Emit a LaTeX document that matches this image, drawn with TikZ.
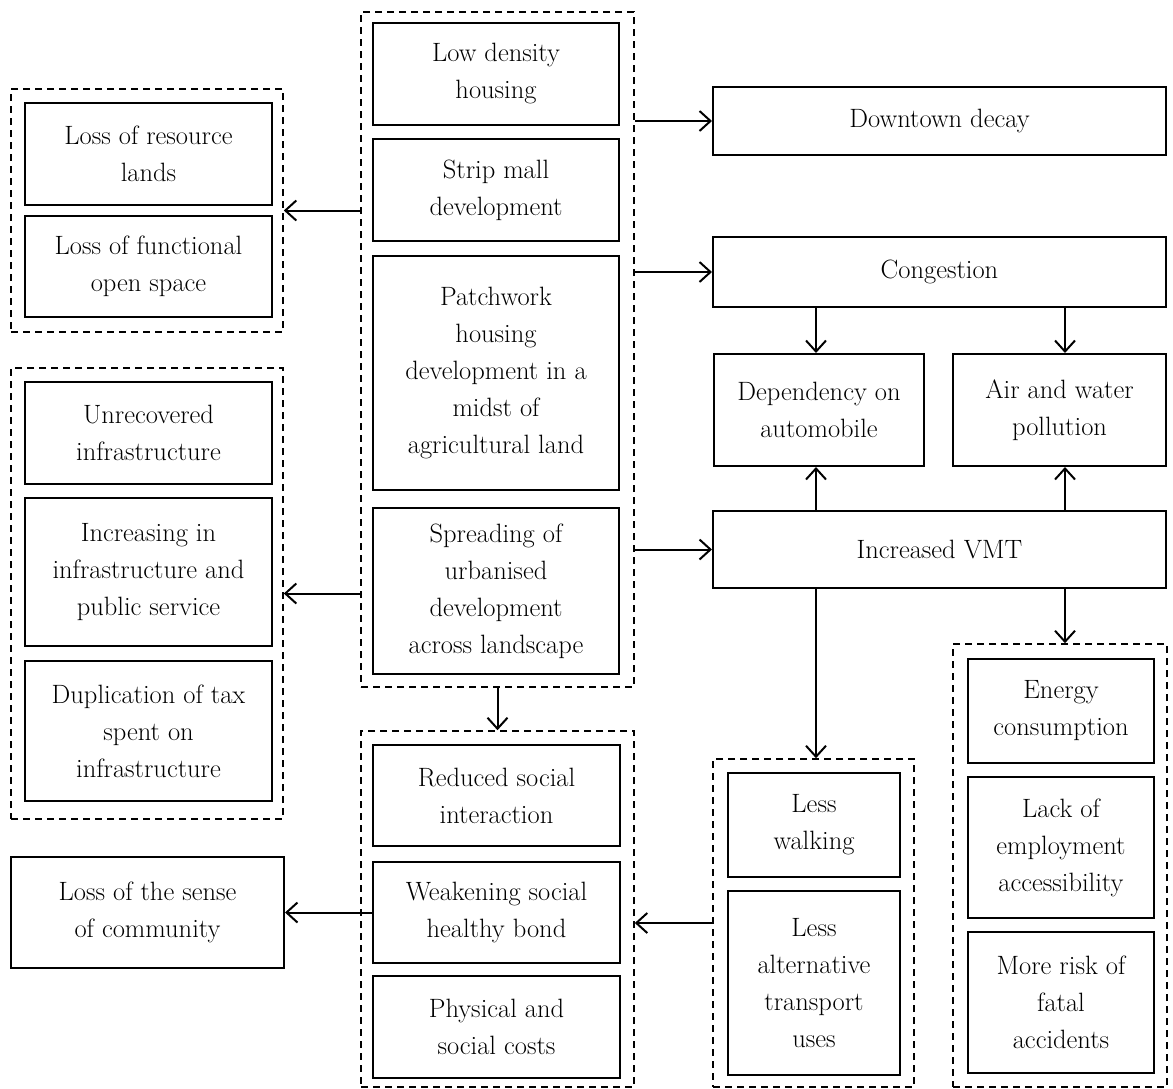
\documentclass[tikz,border=0pt]{standalone}
\usetikzlibrary{arrows.meta}
\begin{document}
\begin{tikzpicture}[x=1pt,y=-1pt,
  txt/.style={font=\fontsize{26.5}{37}\selectfont, align=center},
  boxs/.style={draw, line width=2pt, txt, inner sep=0pt},
  grp/.style={draw, line width=1.6pt, dash pattern=on 7pt off 5pt, inner sep=0pt},
  arr/.style={line width=2pt, -{Straight Barb[length=11pt,width=20pt,line width=2pt]}}]
\useasboundingbox (0,0) rectangle (1173,1088);
% dashed groups
\node[grp, minimum width=273pt, minimum height=675pt] (g0) at (497.5,349.5) {};
\node[grp, minimum width=272pt, minimum height=243pt] (g1) at (147,210.5) {};
\node[grp, minimum width=272pt, minimum height=451pt] (g2) at (147,593.5) {};
\node[grp, minimum width=273pt, minimum height=356pt] (g3) at (497.5,909) {};
\node[grp, minimum width=201pt, minimum height=328pt] (less) at (813.5,923) {};
\node[grp, minimum width=214pt, minimum height=443pt] (rg) at (1060,865.5) {};
% center group
\node[boxs, minimum width=246pt, minimum height=102pt] (low) at (496,74) {Low density\\housing};
\node[boxs, minimum width=246pt, minimum height=102pt] (strip) at (496,190) {Strip mall\\development};
\node[boxs, minimum width=246pt, minimum height=234pt] (patch) at (496,373) {Patchwork\\housing\\development in a\\midst of\\agricultural land};
\node[boxs, minimum width=246pt, minimum height=166pt] (spread) at (496,591) {Spreading of\\urbanised\\development\\across landscape};
% left top group
\node[boxs, minimum width=247pt, minimum height=102pt] (res) at (148.5,154) {Loss of resource\\lands};
\node[boxs, minimum width=247pt, minimum height=101pt] (open) at (148.5,266.5) {Loss of functional\\open space};
% left middle group
\node[boxs, minimum width=247pt, minimum height=102pt] (unrec) at (148.5,433) {Unrecovered\\infrastructure};
\node[boxs, minimum width=247pt, minimum height=148pt] (incr) at (148.5,572) {Increasing in\\infrastructure and\\public service};
\node[boxs, minimum width=247pt, minimum height=140pt] (dup) at (148.5,731) {Duplication of tax\\spent on\\infrastructure};
% loss of sense
\node[boxs, minimum width=273pt, minimum height=111pt] (sense) at (147.5,912.5) {Loss of the sense\\of community};
% right column
\node[boxs, minimum width=453pt, minimum height=68pt] (down) at (939.5,121) {Downtown decay};
\node[boxs, minimum width=453pt, minimum height=70pt] (cong) at (939.5,272) {Congestion};
\node[boxs, minimum width=210pt, minimum height=112pt] (dep) at (819,410) {Dependency on\\automobile};
\node[boxs, minimum width=213pt, minimum height=112pt] (air) at (1059.5,410) {Air and water\\pollution};
\node[boxs, minimum width=453pt, minimum height=77pt] (vmt) at (939.5,549.5) {Increased VMT};
% bottom center group
\node[boxs, minimum width=247pt, minimum height=101pt] (red) at (496.5,795.5) {Reduced social\\interaction};
\node[boxs, minimum width=247pt, minimum height=101pt] (weak) at (496.5,912.5) {Weakening social\\healthy bond};
\node[boxs, minimum width=247pt, minimum height=102pt] (phys) at (496.5,1027) {Physical and\\social costs};
% less group
\node[boxs, minimum width=172pt, minimum height=104pt] (walk) at (814,825) {Less\\walking};
\node[boxs, minimum width=172pt, minimum height=184pt] (alt) at (814,983) {Less\\alternative\\transport\\uses};
% right group
\node[boxs, minimum width=186pt, minimum height=104pt] (energy) at (1061,711) {Energy\\consumption};
\node[boxs, minimum width=186pt, minimum height=141pt] (lack) at (1061,847.5) {Lack of\\employment\\accessibility};
\node[boxs, minimum width=186pt, minimum height=141pt] (risk) at (1061,1002.5) {More risk of\\fatal\\accidents};
% arrow columns
\coordinate (c1) at (816,0);
\coordinate (c2) at (1065,0);
% connectors
\draw[arr] (g0.west |- g1.east) -- (g1.east);
\draw[arr] (g0.west |- g2.east) -- (g2.east);
\draw[arr] (g0.east |- down.west) -- (down.west);
\draw[arr] (g0.east |- cong.west) -- (cong.west);
\draw[arr] (g0.east |- vmt.west) -- (vmt.west);
\draw[arr] (g0.south) -- (g3.north);
\draw[arr] (cong.south -| c1) -- (dep.north -| c1);
\draw[arr] (cong.south -| c2) -- (air.north -| c2);
\draw[arr] (vmt.north -| c1) -- (dep.south -| c1);
\draw[arr] (vmt.north -| c2) -- (air.south -| c2);
\draw[arr] (vmt.south -| c1) -- (less.north -| c1);
\draw[arr] (vmt.south -| c2) -- (rg.north -| c2);
\draw[arr] (less.west) -- (g3.east |- less.west);
\draw[arr] (weak.west) -- (sense.east |- weak.west);
\end{tikzpicture}
\end{document}
